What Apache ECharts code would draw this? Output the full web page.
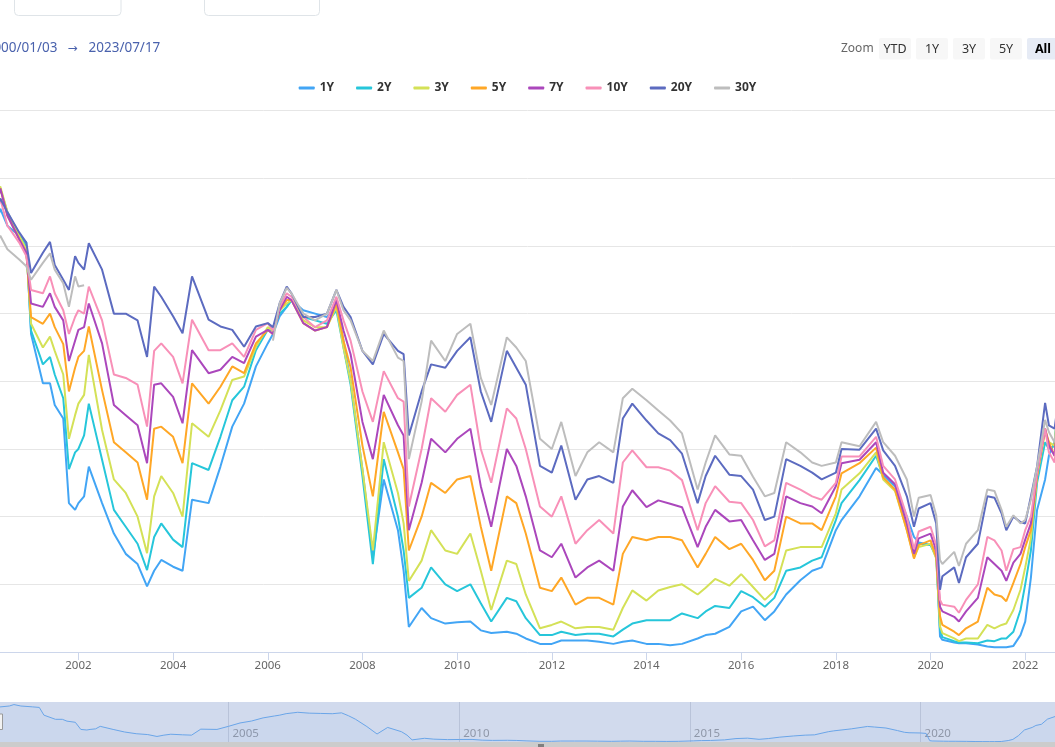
<!DOCTYPE html>
<html lang="en">
<head>
    <meta charset="UTF-8">
    <title>Treasury yields 2000-2023</title>
    <style>
        * {
            margin: 0;
            padding: 0;
            box-sizing: border-box;
        }

        html, body {
            width: 1055px;
            height: 747px;
            overflow: hidden;
            background: #fff;
        }

        .chart {
            width: 1055px;
            height: 747px;
        }
    </style>
</head>
<body>
<div class="chart" id="chart"></div>

<script src="https://cdn.jsdelivr.net/npm/echarts@6/dist/echarts.min.js"></script>
<script>
    // time axis in decimal years
    const years = [
        2000.00, 2000.25, 2000.35, 2000.50, 2000.75, 2000.90, 2001.00, 2001.25, 2001.40, 2001.50,
        2001.68, 2001.80, 2001.93, 2002.00, 2002.12, 2002.22, 2002.50, 2002.75, 2003.00, 2003.25,
        2003.45, 2003.60, 2003.75, 2004.00, 2004.20, 2004.40, 2004.75, 2005.00, 2005.25, 2005.50,
        2005.75, 2006.00, 2006.11, 2006.25, 2006.40, 2006.50, 2006.75, 2007.00, 2007.25, 2007.45,
        2007.60, 2007.75, 2008.00, 2008.22, 2008.45, 2008.75, 2008.87, 2008.98, 2009.25, 2009.45,
        2009.75, 2010.00, 2010.28, 2010.50, 2010.72, 2011.05, 2011.25, 2011.45, 2011.75, 2012.00,
        2012.20, 2012.50, 2012.75, 2013.00, 2013.30, 2013.50, 2013.70, 2014.00, 2014.25, 2014.50,
        2014.75, 2015.08, 2015.25, 2015.45, 2015.75, 2016.00, 2016.25, 2016.50, 2016.70, 2016.95,
        2017.25, 2017.50, 2017.70, 2018.00, 2018.12, 2018.50, 2018.85, 2019.00, 2019.25, 2019.50,
        2019.65, 2019.75, 2020.00, 2020.12, 2020.20, 2020.25, 2020.50, 2020.60, 2020.75, 2021.00,
        2021.20, 2021.35, 2021.50, 2021.60, 2021.75, 2021.90, 2022.00, 2022.12, 2022.25, 2022.42,
        2022.50, 2022.62, 2022.75, 2023.00, 2023.20, 2023.35, 2023.54
    ]

    const y1 = [
        6.10, 6.30, 6.55, 6.30, 6.15, 6.05, 4.70, 3.97, 3.97, 3.65,
        3.45, 2.20, 2.10, 2.20, 2.30, 2.74, 2.20, 1.75, 1.45, 1.30,
        0.97, 1.20, 1.36, 1.26, 1.20, 2.25, 2.20, 2.74, 3.33, 3.67,
        4.22, 4.56, 4.70, 4.96, 5.10, 5.20, 5.05, 5.00, 4.95, 5.10,
        4.60, 4.00, 2.70, 1.40, 2.55, 1.80, 1.20, 0.37, 0.65, 0.50,
        0.42, 0.44, 0.45, 0.32, 0.28, 0.30, 0.27, 0.20, 0.12, 0.12,
        0.17, 0.17, 0.17, 0.15, 0.12, 0.15, 0.17, 0.12, 0.12, 0.10,
        0.12, 0.20, 0.25, 0.27, 0.37, 0.60, 0.67, 0.47, 0.60, 0.85,
        1.06, 1.20, 1.25, 1.80, 1.95, 2.30, 2.72, 2.62, 2.45, 2.00,
        1.70, 1.62, 1.58, 1.50, 0.23, 0.18, 0.14, 0.13, 0.13, 0.11,
        0.08, 0.07, 0.07, 0.07, 0.09, 0.25, 0.45, 1.10, 2.10, 2.55,
        2.90, 3.10, 4.00, 4.70, 4.60, 4.80, 5.35
    ]
    const y2 = [
        6.40, 6.60, 6.85, 6.50, 6.15, 6.00, 4.75, 4.25, 4.36, 4.10,
        3.75, 2.70, 2.95, 3.00, 3.20, 3.67, 2.84, 2.10, 1.85, 1.60,
        1.21, 1.70, 1.90, 1.66, 1.55, 2.79, 2.69, 3.18, 3.72, 3.92,
        4.46, 4.76, 4.75, 5.00, 5.10, 5.20, 4.95, 4.90, 4.85, 5.05,
        4.50, 3.95, 2.60, 1.30, 2.85, 2.00, 1.50, 0.80, 0.95, 1.25,
        1.00, 0.90, 1.00, 0.72, 0.45, 0.80, 0.75, 0.50, 0.25, 0.25,
        0.30, 0.25, 0.27, 0.27, 0.23, 0.33, 0.42, 0.47, 0.47, 0.47,
        0.57, 0.50, 0.60, 0.68, 0.65, 0.90, 0.81, 0.67, 0.80, 1.20,
        1.25, 1.35, 1.40, 1.95, 2.20, 2.54, 2.90, 2.58, 2.40, 1.85,
        1.45, 1.60, 1.58, 1.40, 0.33, 0.22, 0.16, 0.14, 0.14, 0.13,
        0.17, 0.16, 0.20, 0.20, 0.30, 0.62, 1.00, 1.50, 2.50, 3.10,
        3.00, 3.05, 4.20, 4.40, 4.10, 4.00, 4.75
    ]
    const y3 = [
        6.50, 6.65, 6.88, 6.50, 6.15, 5.95, 4.85, 4.50, 4.66, 4.45,
        4.10, 3.15, 3.50, 3.67, 3.80, 4.39, 3.28, 2.55, 2.35, 2.00,
        1.46, 2.30, 2.60, 2.35, 2.00, 3.38, 3.18, 3.57, 4.02, 4.07,
        4.51, 4.80, 4.75, 5.05, 5.15, 5.20, 4.90, 4.80, 4.80, 5.10,
        4.50, 4.00, 2.70, 1.50, 3.10, 2.35, 1.90, 1.05, 1.35, 1.80,
        1.50, 1.45, 1.75, 1.20, 0.62, 1.35, 1.30, 0.85, 0.35, 0.40,
        0.45, 0.35, 0.37, 0.37, 0.33, 0.65, 0.91, 0.76, 0.91, 0.96,
        1.00, 0.85, 0.95, 1.08, 0.98, 1.15, 0.96, 0.77, 0.90, 1.50,
        1.55, 1.55, 1.55, 2.05, 2.40, 2.64, 2.95, 2.55, 2.38, 1.80,
        1.40, 1.55, 1.60, 1.38, 0.38, 0.28, 0.20, 0.16, 0.20, 0.20,
        0.40, 0.35, 0.40, 0.42, 0.62, 0.92, 1.25, 1.68, 2.60, 3.25,
        3.10, 3.05, 4.30, 4.20, 3.90, 3.75, 4.40
    ]
    const y5 = [
        6.55, 6.60, 6.85, 6.45, 6.10, 5.90, 4.95, 4.85, 5.00, 4.80,
        4.55, 3.85, 4.20, 4.36, 4.45, 4.81, 3.87, 3.10, 2.95, 2.80,
        2.25, 3.30, 3.33, 3.18, 2.79, 3.97, 3.67, 3.92, 4.22, 4.12,
        4.56, 4.76, 4.70, 5.05, 5.20, 5.20, 4.86, 4.75, 4.80, 5.15,
        4.60, 4.20, 3.05, 2.30, 3.55, 2.95, 2.70, 1.50, 2.00, 2.50,
        2.35, 2.55, 2.60, 1.85, 1.20, 2.30, 2.20, 1.75, 0.95, 0.90,
        1.10, 0.70, 0.80, 0.80, 0.70, 1.45, 1.70, 1.65, 1.70, 1.70,
        1.65, 1.25, 1.45, 1.70, 1.52, 1.60, 1.36, 1.06, 1.20, 2.00,
        1.90, 1.90, 1.80, 2.30, 2.64, 2.79, 3.02, 2.58, 2.40, 1.80,
        1.38, 1.58, 1.65, 1.40, 0.53, 0.40, 0.30, 0.25, 0.35, 0.45,
        0.95, 0.85, 0.82, 0.75, 1.02, 1.30, 1.55, 1.80, 2.60, 3.30,
        3.10, 2.90, 4.10, 4.00, 3.70, 3.50, 4.05
    ]
    const y7 = [
        6.60, 6.55, 6.85, 6.45, 6.10, 5.90, 5.15, 5.10, 5.30, 5.10,
        4.90, 4.30, 4.60, 4.76, 4.80, 5.15, 4.56, 3.65, 3.50, 3.35,
        2.79, 3.95, 3.97, 3.77, 3.38, 4.46, 4.12, 4.17, 4.36, 4.27,
        4.66, 4.76, 4.70, 5.05, 5.25, 5.20, 4.86, 4.75, 4.80, 5.20,
        4.75, 4.40, 3.40, 2.85, 3.80, 3.35, 3.20, 1.80, 2.50, 3.15,
        2.95, 3.15, 3.30, 2.45, 1.85, 3.00, 2.75, 2.30, 1.50, 1.40,
        1.60, 1.10, 1.25, 1.35, 1.20, 2.15, 2.39, 2.14, 2.24, 2.19,
        2.14, 1.55, 1.85, 2.10, 1.93, 1.95, 1.65, 1.36, 1.45, 2.30,
        2.20, 2.15, 2.05, 2.45, 2.79, 2.84, 3.10, 2.65, 2.48, 1.90,
        1.45, 1.68, 1.75, 1.50, 0.67, 0.60, 0.52, 0.45, 0.60, 0.80,
        1.40, 1.30, 1.20, 1.05, 1.32, 1.45, 1.66, 1.90, 2.65, 3.30,
        3.05, 2.90, 4.00, 3.95, 3.60, 3.50, 3.95
    ]
    const y10 = [
        6.60, 6.40, 6.70, 6.30, 6.05, 5.85, 5.35, 5.30, 5.55, 5.30,
        5.05, 4.70, 4.95, 5.05, 5.00, 5.40, 4.90, 4.10, 4.05, 3.95,
        3.33, 4.45, 4.56, 4.36, 3.97, 4.91, 4.46, 4.46, 4.56, 4.36,
        4.76, 4.86, 4.75, 5.10, 5.30, 5.25, 4.95, 4.80, 4.90, 5.25,
        4.90, 4.60, 3.85, 3.40, 4.15, 3.75, 3.70, 2.15, 3.00, 3.75,
        3.55, 3.80, 3.95, 3.00, 2.50, 3.60, 3.45, 3.00, 2.15, 2.00,
        2.30, 1.60, 1.80, 1.95, 1.75, 2.80, 2.98, 2.73, 2.73, 2.68,
        2.54, 1.80, 2.20, 2.45, 2.22, 2.20, 1.95, 1.56, 1.65, 2.50,
        2.40, 2.30, 2.25, 2.50, 2.89, 2.89, 3.18, 2.75, 2.55, 2.00,
        1.52, 1.78, 1.85, 1.58, 0.77, 0.70, 0.67, 0.58, 0.77, 1.00,
        1.70, 1.65, 1.50, 1.20, 1.52, 1.55, 1.80, 2.00, 2.65, 3.30,
        2.95, 2.80, 3.80, 3.80, 3.50, 3.45, 3.80
    ]
    const y20 = [
        6.90, 6.50, 6.70, 6.50, 6.20, 6.05, 5.60, 5.90, 6.06, 5.72,
        5.50, 5.35, 5.85, 5.75, 5.65, 6.04, 5.65, 5.00, 5.00, 4.90,
        4.36, 5.40, 5.25, 4.96, 4.71, 5.55, 4.91, 4.81, 4.76, 4.51,
        4.81, 4.86, 4.80, 5.15, 5.40, 5.30, 4.95, 4.95, 5.00, 5.35,
        5.10, 4.95, 4.45, 4.25, 4.70, 4.45, 4.40, 3.20, 3.85, 4.25,
        4.20, 4.45, 4.65, 3.85, 3.40, 4.45, 4.20, 3.95, 2.75, 2.65,
        3.05, 2.25, 2.55, 2.60, 2.50, 3.45, 3.67, 3.42, 3.23, 3.13,
        2.93, 2.20, 2.60, 2.90, 2.62, 2.60, 2.40, 1.95, 2.00, 2.85,
        2.75, 2.65, 2.55, 2.65, 3.00, 2.99, 3.30, 2.98, 2.75, 2.30,
        1.85, 2.12, 2.20, 1.90, 0.92, 1.12, 1.25, 1.02, 1.40, 1.60,
        2.30, 2.28, 2.05, 1.80, 2.00, 1.92, 1.90, 2.30, 2.74, 3.68,
        3.35, 3.30, 4.00, 4.10, 3.80, 3.80, 4.05
    ]
    // 30Y was not issued between Feb 2002 and Feb 2006
    const y30 = [
        6.60, 6.05, 6.15, 5.95, 5.80, 5.70, 5.50, 5.75, 5.89, 5.65,
        5.45, 5.10, 5.55, 5.40, 5.42, null, null, null, null, null,
        null, null, null, null, null, null, null, null, null, null,
        null, null, 4.60, 5.15, 5.38, 5.30, 5.00, 4.90, 5.00, 5.35,
        5.05, 4.90, 4.45, 4.30, 4.75, 4.35, 4.30, 2.85, 3.70, 4.60,
        4.30, 4.70, 4.85, 4.05, 3.65, 4.65, 4.50, 4.30, 3.15, 3.00,
        3.40, 2.60, 2.95, 3.10, 2.95, 3.75, 3.89, 3.72, 3.57, 3.42,
        3.23, 2.40, 2.80, 3.20, 2.92, 2.90, 2.59, 2.30, 2.35, 3.10,
        2.95, 2.80, 2.75, 2.80, 3.10, 3.04, 3.40, 3.10, 2.90, 2.55,
        2.00, 2.28, 2.32, 2.02, 1.36, 1.30, 1.48, 1.27, 1.60, 1.80,
        2.40, 2.38, 2.10, 1.85, 2.02, 1.90, 1.95, 2.25, 2.74, 3.43,
        3.25, 3.10, 3.75, 3.90, 3.70, 3.70, 3.90
    ]

    const names = ['1Y', '2Y', '3Y', '5Y', '7Y', '10Y', '20Y', '30Y']
    const colors = ['#42a5f5', '#26c6da', '#d4e157', '#ffa726', '#ab47bc', '#f890b8', '#5c6bc0', '#bdbdbd']
    const mainTicks = [2002, 2004, 2006, 2008, 2010, 2012, 2014, 2016, 2018, 2020, 2022]
    const navTicks = [2005, 2010, 2015, 2020]
    const rangeStart = '2000/01/03'
    const rangeEnd = '2023/07/17'
    const zoomButtons = ['YTD', '1Y', '3Y', '5Y', 'All']

    const allValues = [y1, y2, y3, y5, y7, y10, y20, y30]
    const toPairs = arr => years.map((t, i) => [t, arr[i]])
    const yearLabel = v => String(Math.round(v))
    const FONT = '"Noto Sans", "DejaVu Sans", sans-serif'

    const chart = echarts.init(document.getElementById('chart'))

    // zoom buttons top right
    const buttonGraphics = []
    zoomButtons.forEach((label, i) => {
        const bx = 879 + i * 37
        const active = label === 'All'
        buttonGraphics.push({
            type: 'rect',
            shape: { x: bx, y: 38, width: 32, height: 21.5, r: 2 },
            style: { fill: active ? '#e6ebf5' : '#f7f7f7' }
        })
        buttonGraphics.push({
            type: 'text',
            x: bx + 16,
            y: 49,
            style: {
                text: label,
                fill: active ? '#000' : '#333',
                font: (active ? 'bold ' : '') + '12.5px ' + FONT,
                textAlign: 'center',
                textVerticalAlign: 'middle'
            }
        })
    })

    const option = {
        animation: false,
        textStyle: { fontFamily: FONT },
        color: colors,
        legend: {
            data: names,
            top: 77,
            left: 'center',
            icon: 'roundRect',
            itemWidth: 16,
            itemHeight: 3,
            itemGap: 22,
            textStyle: { color: '#333', fontWeight: 'bold', fontSize: 12 }
        },
        grid: [
            // the picture only shows part of the plot: the axis range is the visible window
            { left: 0, right: 0, top: 110.6, bottom: 95 },
            // navigator strip
            { left: 0, right: 0, top: 702, height: 40, show: true, backgroundColor: '#d1daed', borderWidth: 0 }
        ],
        xAxis: [
            {
                type: 'value',
                gridIndex: 0,
                min: 2000.344,
                max: 2022.629,
                axisLine: { lineStyle: { color: '#ccd6eb' } },
                axisTick: { show: true, length: 8, customValues: mainTicks, lineStyle: { color: '#ccd6eb' } },
                axisLabel: {
                    color: '#666',
                    fontSize: 11.5,
                    margin: 8,
                    customValues: mainTicks,
                    formatter: yearLabel
                },
                splitLine: { show: false }
            },
            {
                type: 'value',
                gridIndex: 1,
                min: 2000.048,
                max: 2022.914,
                axisLine: { show: false },
                axisTick: { show: false, customValues: navTicks },
                axisLabel: {
                    inside: true,
                    align: 'left',
                    padding: [0, 0, 0, 4],
                    margin: 2,
                    color: '#8f97a8',
                    fontSize: 11.5,
                    customValues: navTicks,
                    formatter: yearLabel
                },
                splitLine: { show: true, lineStyle: { color: '#b9c3d9' } }
            }
        ],
        yAxis: [
            {
                type: 'value',
                gridIndex: 0,
                min: 0,
                max: 8,
                interval: 1,
                axisLine: { show: false },
                axisTick: { show: false },
                axisLabel: { show: false },
                splitLine: { lineStyle: { color: '#e6e6e6' } }
            },
            {
                type: 'value',
                gridIndex: 1,
                min: 0,
                max: 7,
                show: false,
                splitLine: { show: false }
            }
        ],
        graphic: [
            // tabs cut off at the top
            {
                type: 'rect',
                shape: { x: 14.5, y: -10, width: 106.5, height: 25.5, r: 4 },
                style: { fill: '#fff', stroke: '#dfe4e8', lineWidth: 1 }
            },
            {
                type: 'rect',
                shape: { x: 204.5, y: -10, width: 115, height: 25.5, r: 4 },
                style: { fill: '#fff', stroke: '#dfe4e8', lineWidth: 1 }
            },
            {
                type: 'text',
                x: 57.5,
                y: 48.5,
                style: {
                    text: rangeStart,
                    fill: '#4a62ad',
                    font: '13.5px ' + FONT,
                    textAlign: 'right',
                    textVerticalAlign: 'middle'
                }
            },
            {
                type: 'text',
                x: 72.5,
                y: 48.5,
                style: {
                    text: '→',
                    fill: '#4a62ad',
                    font: '12px ' + FONT,
                    textAlign: 'center',
                    textVerticalAlign: 'middle'
                }
            },
            {
                type: 'text',
                x: 88.5,
                y: 48.5,
                style: {
                    text: rangeEnd,
                    fill: '#4a62ad',
                    font: '13.5px ' + FONT,
                    textVerticalAlign: 'middle'
                }
            },
            {
                type: 'text',
                x: 841,
                y: 49,
                style: {
                    text: 'Zoom',
                    fill: '#666',
                    font: '12px ' + FONT,
                    textVerticalAlign: 'middle'
                }
            },
            ...buttonGraphics,
            // navigator handle and scrollbar
            {
                type: 'rect',
                z: 100,
                shape: { x: -5, y: 714, width: 7.5, height: 15.5 },
                style: { fill: '#f2f2f2', stroke: '#999', lineWidth: 1 }
            },
            {
                type: 'rect',
                z: 100,
                shape: { x: 0, y: 742, width: 1055, height: 5 },
                style: { fill: '#cccccc' }
            },
            { type: 'line', z: 101, shape: { x1: 539, y1: 744, x2: 539, y2: 747 }, style: { stroke: '#333', lineWidth: 1 } },
            { type: 'line', z: 101, shape: { x1: 541, y1: 744, x2: 541, y2: 747 }, style: { stroke: '#333', lineWidth: 1 } },
            { type: 'line', z: 101, shape: { x1: 543, y1: 744, x2: 543, y2: 747 }, style: { stroke: '#333', lineWidth: 1 } }
        ],
        series: names.map((name, i) => ({
            name: name,
            type: 'line',
            xAxisIndex: 0,
            yAxisIndex: 0,
            data: toPairs(allValues[i]),
            showSymbol: false,
            symbol: 'none',
            connectNulls: false,
            clip: true,
            lineStyle: { width: 2, color: colors[i] },
            itemStyle: { color: colors[i] },
            z: 2 + i
        })).concat([
            {
                name: 'navigator',
                type: 'line',
                xAxisIndex: 1,
                yAxisIndex: 1,
                data: toPairs(y1),
                showSymbol: false,
                symbol: 'none',
                silent: true,
                clip: true,
                lineStyle: { width: 1, color: '#6aa5e8' },
                areaStyle: { color: 'rgba(106, 165, 232, 0.08)' }
            }
        ])
    }

    chart.setOption(option)
</script>
</body>
</html>
